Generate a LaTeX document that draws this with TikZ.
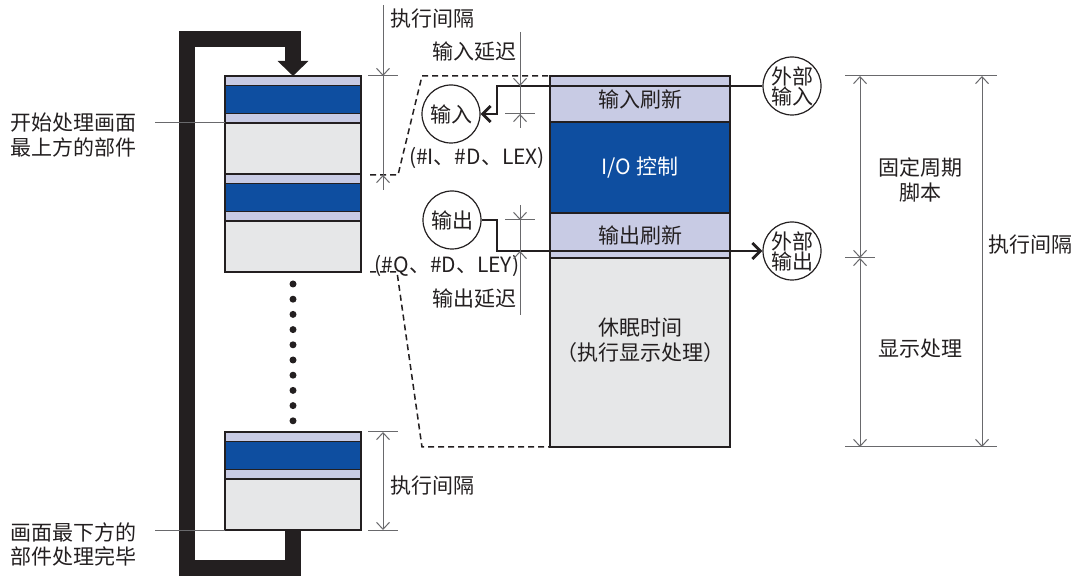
\documentclass[tikz,border=0pt]{standalone}
\usepackage{fontspec}
\setmainfont{Noto Sans CJK SC}
\usetikzlibrary{arrows.meta,positioning}
\definecolor{lineink}{RGB}{35,31,32}
\definecolor{stripfill}{RGB}{200,203,228}
\definecolor{ctrlfill}{RGB}{14,78,160}
\definecolor{idlefill}{RGB}{230,231,232}
\definecolor{dimink}{RGB}{105,105,108}
\tikzset{
  slab/.style={draw=lineink, line width=0.7pt, inner sep=0pt, outer sep=0pt, minimum width=68pt},
  strip/.style={slab, fill=stripfill, minimum height=4.75pt},
  ctrl/.style={slab, fill=ctrlfill, minimum height=14pt},
  idle/.style={slab, fill=idlefill, minimum height=25.5pt},
  rslab/.style={slab, minimum width=90pt, text=lineink},
  port/.style={circle, draw=lineink, fill=white, line width=0.6pt, minimum size=29pt, inner sep=0pt,
    align=center, font=\fontsize{10.5pt}{10pt}\selectfont, text=lineink},
  wire/.style={line width=1.4pt, draw=lineink},
  barb/.style={-{Straight Barb[length=4pt,width=8pt]}},
  dimline/.style={line width=0.5pt, draw=dimink},
  dimtip/.style={dimline, -{Straight Barb[length=3.5pt,width=6.5pt]}},
  dimboth/.style={dimline, {Straight Barb[length=3.5pt,width=6.5pt]}-{Straight Barb[length=3.5pt,width=6.5pt]}},
  trace/.style={line width=0.75pt, draw=lineink, dash pattern=on 3pt off 2pt},
  cue/.style={line width=0.5pt, draw=dimink},
  loopband/.style={line width=8pt, draw=lineink, -{Triangle[length=7.5pt,width=15pt]}},
  lbl/.style={text=lineink, inner sep=0pt}
}

\begin{document}
\begin{tikzpicture}[x=0.5pt, y=-0.5pt, font=\fontsize{10.5pt}{12.25pt}\selectfont]
  \useasboundingbox (0,0) rectangle (1080,576);

  % screen parts processed one after another
  \foreach \n/\ytop in {1/76,2/174,3/432} {
    \node[strip, anchor=north west] (inref\n) at (225,\ytop) {};
    \node[ctrl, below=0pt of inref\n] (ioctl\n) {};
    \node[strip, below=0pt of ioctl\n] (outref\n) {};
    \node[idle, below=0pt of outref\n] (sleep\n) {};
  }
  \foreach \k in {0,...,9}
    \fill[lineink] (293,284+15.2*\k) circle (1.75pt);

  \coordinate (loopbl) at (187,568);
  \coordinate (looptr) at (293,39);
  \draw[loopband] (sleep3.south) |- (loopbl) |- (looptr) -- (inref1.north);

  \node[lbl, anchor=west, align=left] (toplbl) at (10,135) {开始处理画面\\最上方的部件};
  \node[lbl, anchor=west, align=left] (botlbl) at (10,544.5) {画面最下方的\\部件处理完毕};
  \coordinate (topcue) at (155,123);
  \coordinate (botcue) at (155,530);
  \draw[cue] (topcue) -- (sleep1.north west);
  \draw[cue] (botcue) -- (sleep3.south west);

  % one scan
  \node[rslab, fill=stripfill, minimum height=23pt, anchor=north west] (rin) at (550,76) {输入刷新};
  \node[rslab, fill=ctrlfill, minimum height=45.5pt, text=white, below=0pt of rin] (rio) {I/O 控制};
  \node[rslab, fill=stripfill, minimum height=22.5pt, below=0pt of rio] (rout) {输出刷新};
  \node[rslab, fill=idlefill, minimum height=94.5pt, below=0pt of rout] (ridle) {};
  \node[lbl, align=center] (idletxt) at (640,340) {休眠时间\\（执行显示处理）};

  \coordinate (tr1a) at (370,175);
  \coordinate (tr1b) at (398,175);
  \coordinate (tr1c) at (422,76);
  \draw[trace] (tr1a) -- (tr1b) -- (tr1c) -- (rin.north west);
  \coordinate (tr2a) at (370,272);
  \coordinate (tr2b) at (397,272);
  \coordinate (tr2c) at (422,447);
  \draw[trace] (tr2a) -- (tr2b) -- (tr2c) -- (ridle.south west);

  % I/O
  \node[port] (incirc) at (451,114) {输入};
  \node[port] (outcirc) at (452,220) {输出};
  \node[port] (extin) at (792,86) {外部\\输入};
  \node[port] (extout) at (792,251) {外部\\输出};
  \coordinate (inknee) at (497,86);
  \coordinate (outknee) at (497,251);
  \draw[wire, barb] (extin.west) -- (inknee) |- (incirc.east);
  \draw[wire, barb] (outcirc.east) -| (outknee) -- (extout.west);

  \node[lbl] (inregs) at (477,158) {(\#I、\#D、LEX)};
  \node[lbl] (outregs) at (447,266) {(\#Q、\#D、LEY)};

  % dimensions, left
  \draw[dimline] (383,5) -- (383,190);
  \draw[dimline] (368,76) -- (398,76);
  \draw[dimtip] (383,64) -- (383,76);
  \draw[dimtip] (383,187) -- (383,175);
  \node[lbl] (toplap) at (432,19) {执行间隔};

  \draw[dimline] (520,32) -- (520,128);
  \draw[dimline] (505,114) -- (535,114);
  \draw[dimtip] (520,74) -- (520,86);
  \draw[dimtip] (520,126) -- (520,114);
  \node[lbl] (indelay) at (474,52) {输入延迟};

  \draw[dimline] (520,205) -- (520,315);
  \draw[dimline] (505,220) -- (535,220);
  \draw[dimtip] (520,208) -- (520,220);
  \draw[dimtip] (520,263) -- (520,251);
  \node[lbl] (outdelay) at (474,299) {输出延迟};

  \draw[dimline] (368,432) -- (398,432);
  \draw[dimline] (368,530) -- (398,530);
  \draw[dimboth] (383,432) -- (383,530);
  \node[lbl] (botlap) at (432,486) {执行间隔};

  % dimensions, right
  \draw[dimline] (845,76) -- (997,76);
  \draw[dimline] (845,447) -- (997,447);
  \draw[dimline] (845,258) -- (875,258);
  \draw[dimboth] (860,76) -- (860,258);
  \draw[dimboth] (860,258) -- (860,447);
  \draw[dimboth] (982,76) -- (982,447);
  \node[lbl, align=center] (fixedtxt) at (920,180) {固定周期\\脚本};
  \node[lbl] (disptxt) at (920,349) {显示处理};
  \node[lbl] (rightlap) at (1030,245) {执行间隔};
\end{tikzpicture}
\end{document}
